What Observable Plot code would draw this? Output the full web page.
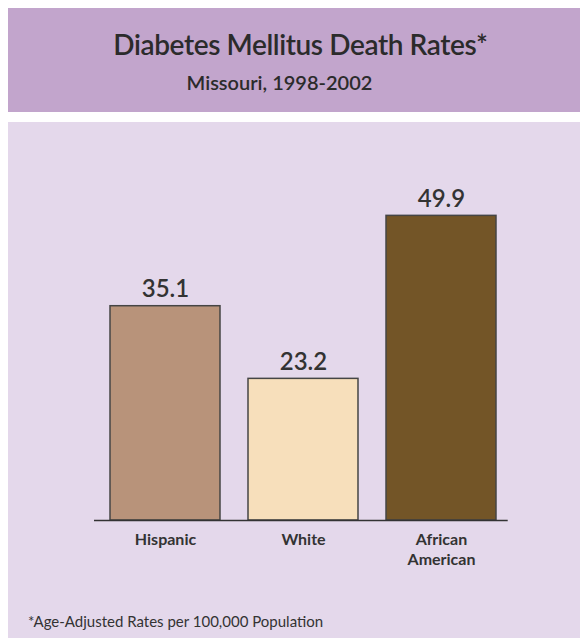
<!DOCTYPE html>
<html>
<head>
<meta charset="utf-8">
<script src="https://cdn.jsdelivr.net/npm/d3@7"></script>
<script src="https://cdn.jsdelivr.net/npm/@observablehq/plot@0.6"></script>
<style>
  body { margin: 0; background: #ffffff; font-family: Lato, "Open Sans", sans-serif; }
  #page { position: relative; width: 580px; height: 638px; overflow: hidden; }
  #header { position: absolute; left: 8px; top: 8px; width: 572px; height: 104px; background: #c2a5cc; }
  #title { position: absolute; left: 0; width: 572px; box-sizing: border-box; padding-left: 13px; top: 22px; text-align: center; font-size: 28px; font-weight: 600; letter-spacing: -0.4px; color: #2b2b2b; line-height: 1; }
  #subtitle { position: absolute; left: 0; width: 572px; box-sizing: border-box; padding-right: 29px; top: 64px; text-align: center; font-size: 20px; font-weight: 600; color: #2b2b2b; line-height: 1; }
  #panel { position: absolute; left: 8px; top: 122px; width: 572px; height: 516px; background: #e4d8eb; }
  #chart { position: absolute; left: 0; top: 0; }
  #note { position: absolute; left: 20px; top: 492px; font-size: 15px; color: #333; line-height: 1; }
</style>
</head>
<body>
<div id="page">
  <div id="header">
    <div id="title">Diabetes Mellitus Death Rates*</div>
    <div id="subtitle">Missouri, 1998-2002</div>
  </div>
  <div id="panel">
    <div id="chart"></div>
    <div id="note">*Age-Adjusted Rates per 100,000 Population</div>
  </div>
</div>
<script>
const categories = ["Hispanic", "White", "African American"];
const tickLabels = ["Hispanic", "White", "African\nAmerican"];
const rates = [35.1, 23.2, 49.9];
const valueLabels = ["35.1", "23.2", "49.9"];
const barColors = ["#b8937a", "#f7dfbb", "#735527"];

const data = categories.map((c, i) => ({cat: c, value: rates[i], label: valueLabels[i], color: barColors[i]}));

const chart = Plot.plot({
  width: 572,
  height: 470,
  marginTop: 92.75,
  marginBottom: 72,
  marginLeft: 86,
  marginRight: 72.3,
  style: {background: "transparent", fontFamily: "Lato, 'Open Sans', sans-serif", color: "#333"},
  x: {domain: categories, range: [101.3, 487.7], paddingInner: 0.206, paddingOuter: 0, label: null},
  y: {domain: [0, 50], axis: null},
  marks: [
    Plot.barY(data, {x: "cat", y: "value", fill: "color", stroke: "#454545", strokeWidth: 1.5}),
    Plot.ruleY([0], {stroke: "#333", strokeWidth: 1.5}),
    Plot.text(data, {x: "cat", y: "value", text: "label", lineAnchor: "bottom", dy: -9, fontSize: 24, fontWeight: 600, fill: "#333"}),
    Plot.axisX({tickSize: 0, tickPadding: 10.5, fontSize: 16, fontWeight: 700, lineHeight: 1.25, fill: "#333",
      tickFormat: d => tickLabels[categories.indexOf(d)], label: null})
  ]
});
document.getElementById("chart").appendChild(chart);
</script>
</body>
</html>
